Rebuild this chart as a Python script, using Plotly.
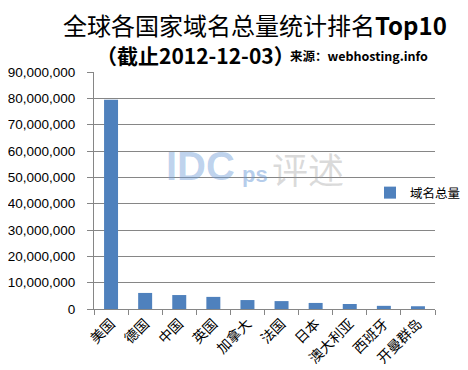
import plotly.graph_objects as go

categories = ["美国", "德国", "中国", "英国", "加拿大", "法国", "日本", "澳大利亚", "西班牙", "开曼群岛"]
values = [79500000, 6100000, 5300000, 4600000, 3400000, 3000000, 2300000, 1900000, 1200000, 1050000]
series_name = "域名总量"
y_ticks = [0, 10000000, 20000000, 30000000, 40000000, 50000000, 60000000, 70000000, 80000000, 90000000]

W, H = 468, 370
L, R, T, B = 86, 41, 64, 69
pw, ph = W - L - R, H - T - B

def px(x):
    return (x - L) / pw

def py(y):
    return (H - B - y) / ph

CJK = "Noto Sans CJK SC, Liberation Sans, Arial"
ARIAL = "Liberation Sans, Arial"

fig = go.Figure()
fig.add_trace(go.Bar(
    x=categories, y=values, name=series_name,
    marker=dict(color="#4F81BD", line=dict(width=0)),
    showlegend=True,
))

fig.update_layout(
    width=W, height=H,
    margin=dict(l=L, r=R, t=T, b=B, pad=0, autoexpand=False),
    paper_bgcolor="white", plot_bgcolor="white",
    bargap=0.59,
    showlegend=True,
    legend=dict(
        x=px(362), y=py(185), xanchor="left", yanchor="middle",
        bgcolor="rgba(0,0,0,0)", font=dict(family=CJK, size=12.5, color="#000000"),
        itemwidth=30, borderwidth=0,
    ),
    xaxis=dict(
        type="category", automargin=False,
        showline=True, linecolor="#868686", linewidth=1,
        ticks="outside", ticklen=5, tickcolor="#868686", tickson="boundaries",
        tickangle=-45,
        tickfont=dict(family=CJK, size=14, color="#000000"),
        showgrid=False,
    ),
    yaxis=dict(
        range=[0, 90000000], automargin=False,
        tickvals=y_ticks, tickformat=",d",
        showline=True, linecolor="#868686", linewidth=1,
        ticks="outside", ticklen=6, tickcolor="#868686",
        ticklabelstandoff=9,
        tickfont=dict(family=ARIAL, size=13.5, color="#000000"),
        showgrid=True, gridcolor="#868686", gridwidth=1,
        zeroline=False,
    ),
    annotations=[
        dict(text="全球各国家域名总量统计排名<b>Top10</b>", xref="paper", yref="paper",
             x=px(247), y=py(16), xanchor="center", yanchor="middle", showarrow=False,
             font=dict(family=CJK, size=24, color="#000000")),
        dict(text="<b>（截止2012-12-03）</b>", xref="paper", yref="paper",
             x=px(86), y=py(47), xanchor="left", yanchor="middle", showarrow=False,
             font=dict(family=CJK, size=21, color="#000000")),
        dict(text="<b>来源：webhosting.info</b>", xref="paper", yref="paper",
             x=px(280), y=py(48), xanchor="left", yanchor="middle", showarrow=False,
             font=dict(family=CJK, size=12.5, color="#000000")),
        # faint watermark
        dict(text="<b>IDC</b>", xref="paper", yref="paper",
             x=px(156), y=py(158), xanchor="left", yanchor="middle", showarrow=False,
             font=dict(family=ARIAL, size=40, color="rgba(110,155,215,0.45)")),
        dict(text="<b>ps</b>", xref="paper", yref="paper",
             x=px(232), y=py(166), xanchor="left", yanchor="middle", showarrow=False,
             font=dict(family=ARIAL, size=22, color="rgba(110,155,215,0.5)")),
        dict(text="评述", xref="paper", yref="paper",
             x=px(262), y=py(160), xanchor="left", yanchor="middle", showarrow=False,
             font=dict(family=CJK, size=36, color="rgba(150,150,150,0.35)")),
    ],
)

fig.write_html("out.html")
